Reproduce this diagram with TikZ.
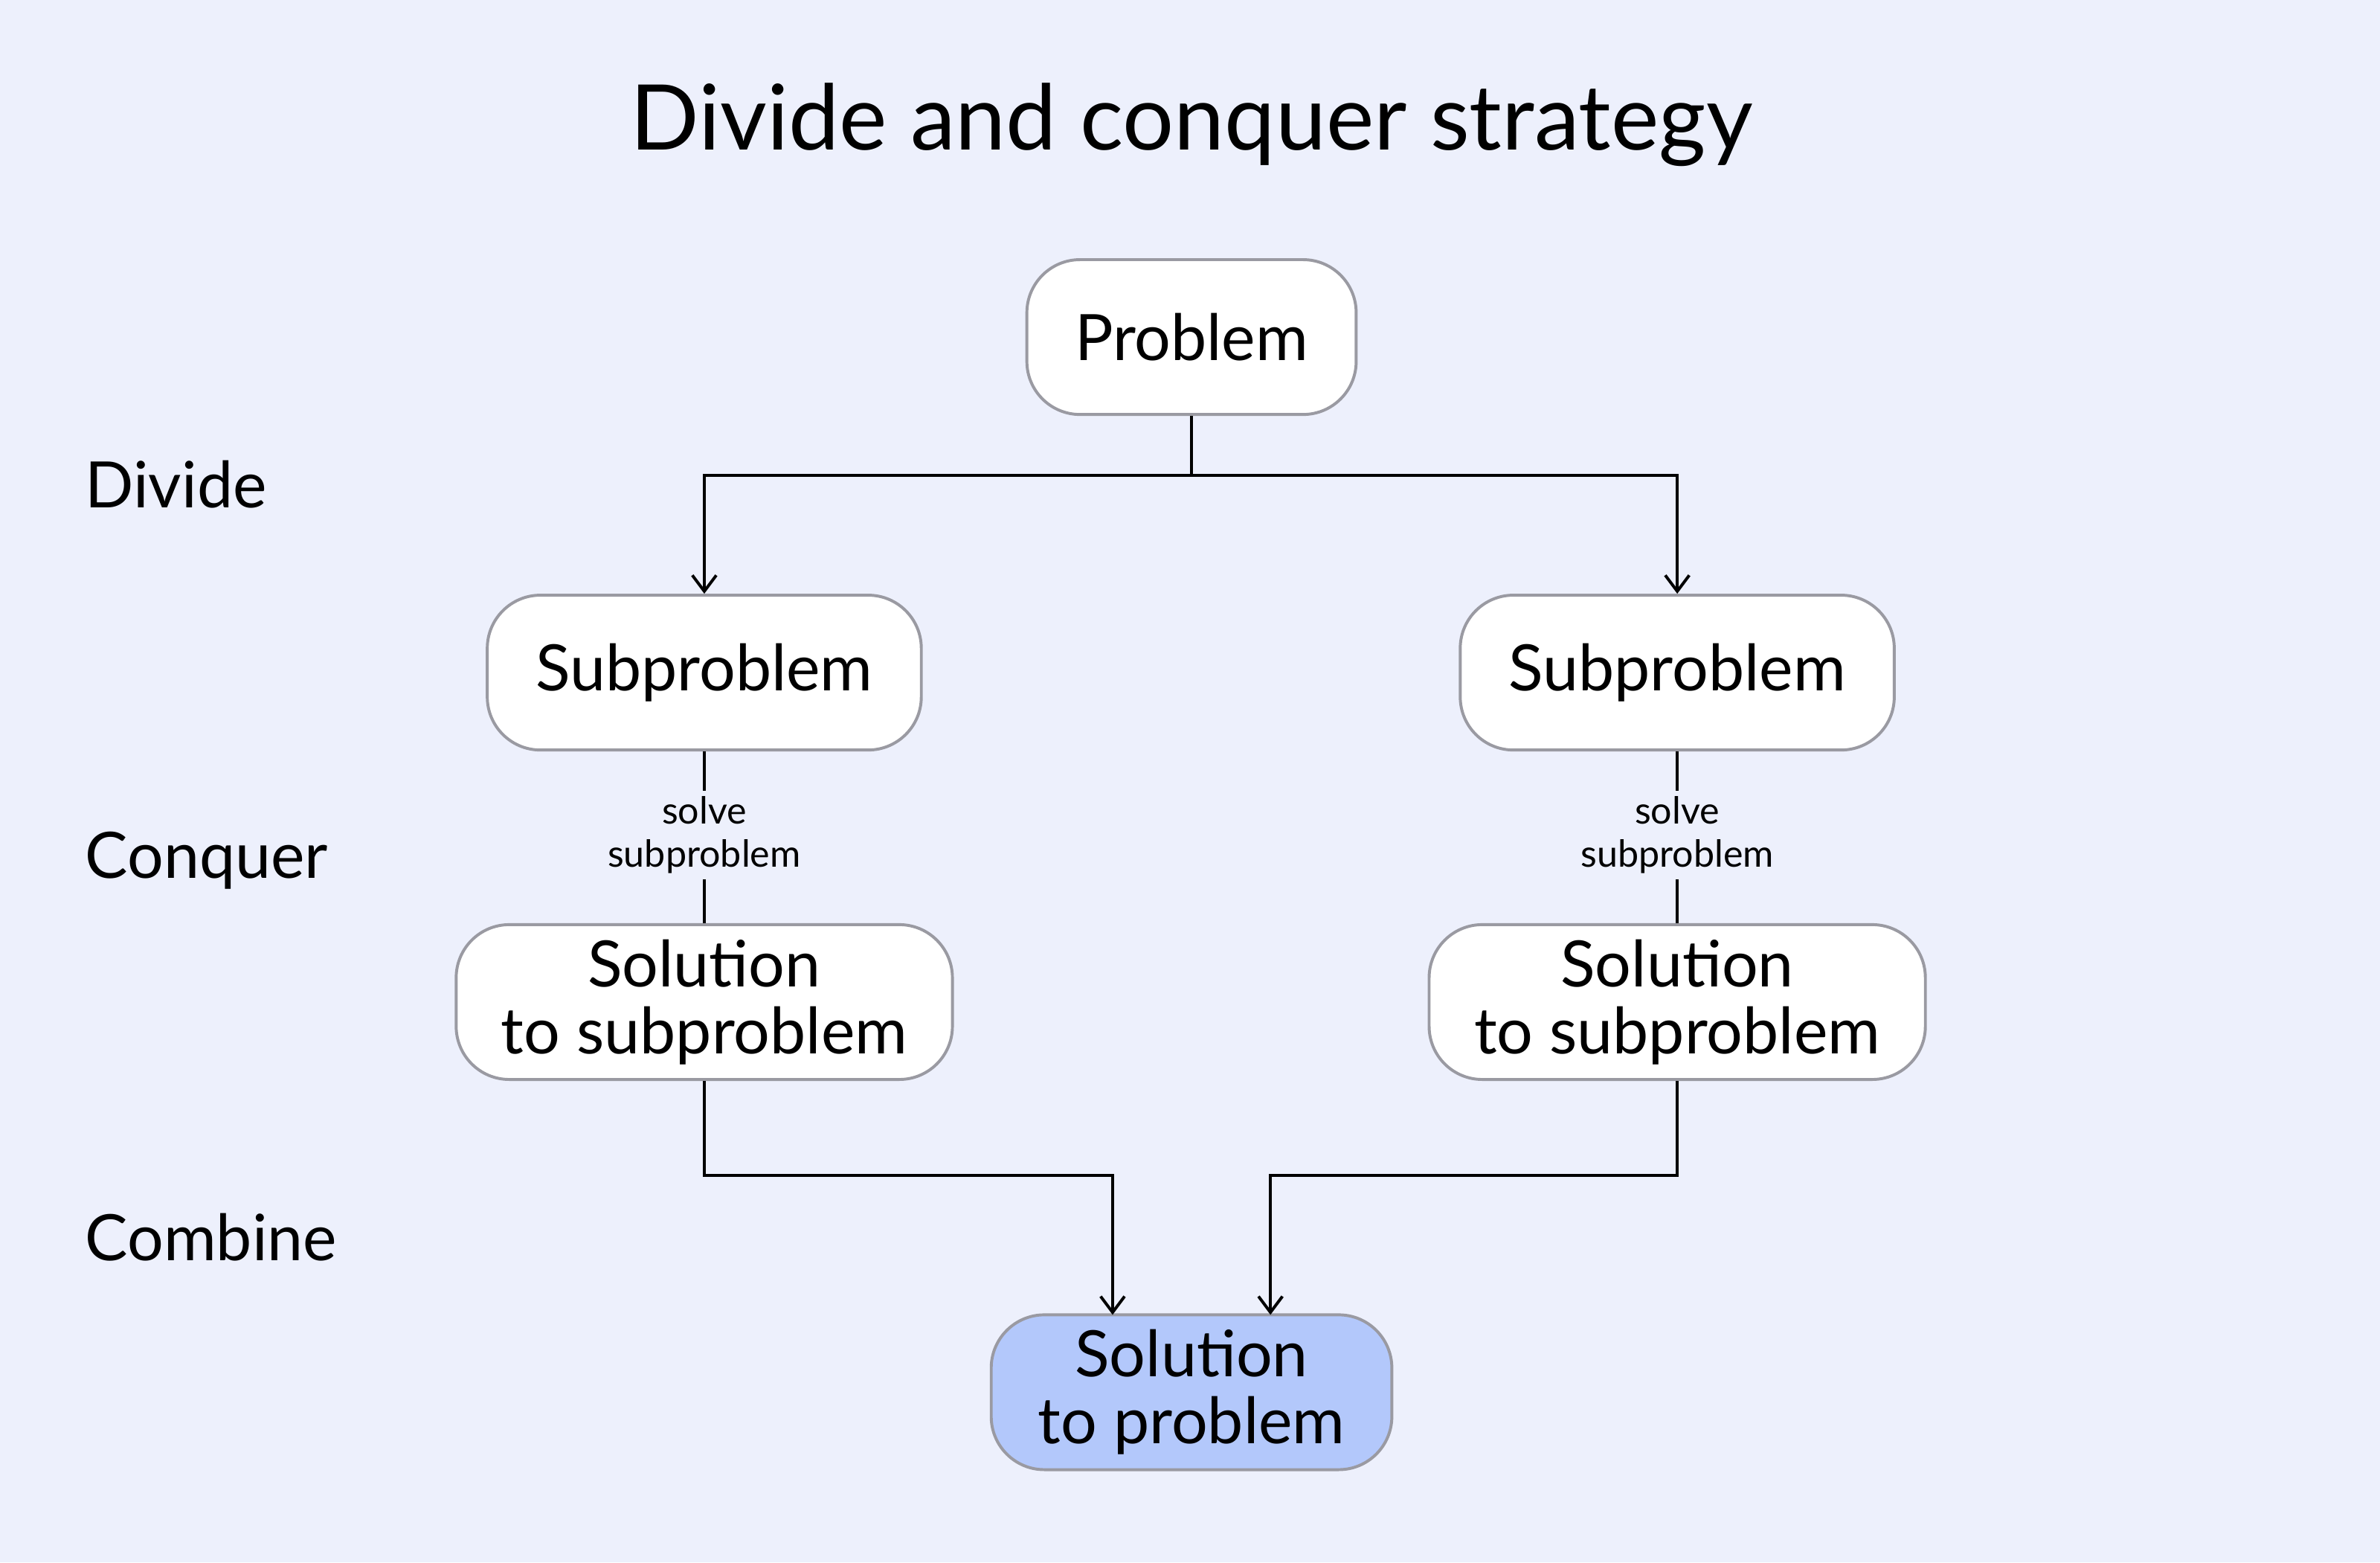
\documentclass[tikz,border=0pt]{standalone}
\usepackage{fontspec}
\setmainfont{Lato}
\usetikzlibrary{arrows.meta}
\definecolor{bg}{HTML}{EDF0FC}
\definecolor{bd}{HTML}{9A9AA2}
\definecolor{hl}{HTML}{B3C8FB}
\begin{document}
\begin{tikzpicture}[x=0.02cm,y=-0.02cm,
  box/.style={draw=bd,line width=1.1pt,fill=white,rounded corners=0.7cm,minimum height=2.04cm,align=center,font=\fontsize{24}{25}\selectfont,inner sep=0pt},
  lab/.style={font=\fontsize{24}{28}\selectfont,anchor=west},
  ln/.style={line width=1.1pt,black},
  arr/.style={ln,-{Straight Barb[length=6pt,width=9pt]}}]
\fill[bg] (0,0) rectangle (1568,1029);
\node[font=\fontsize{34}{40}\selectfont] (title) at (785,82) {Divide and conquer strategy};
\node[lab] (d) at (50,319) {Divide};
\node[lab] (c) at (50,567) {Conquer};
\node[lab] (cb) at (50,815) {Combine};
\node[box,minimum width=4.34cm] (p) at (785,222) {Problem};
\node[box,minimum width=5.72cm] (sl) at (464,443) {Subproblem};
\node[box,minimum width=5.72cm] (sr) at (1105,443) {Subproblem};
\node[box,minimum width=6.54cm] (ol) at (464,660) {Solution\\to subproblem};
\node[box,minimum width=6.54cm] (or) at (1105,660) {Solution\\to subproblem};
\node[box,minimum width=5.28cm,fill=hl] (f) at (785,917) {Solution\\to problem};
\coordinate (j) at (785,313);
\draw[ln] (p.south) -- (j);
\draw[arr] (j) -| (sl.north);
\draw[arr] (j) -| (sr.north);
\node[font=\fontsize{14}{16}\selectfont,align=center,inner sep=2pt] (tl) at (464,550) {solve\\subproblem};
\node[font=\fontsize{14}{16}\selectfont,align=center,inner sep=2pt] (tr) at (1105,550) {solve\\subproblem};
\draw[ln] (sl.south) -- (tl.north);
\draw[ln] (tl.south) -- (ol.north);
\draw[ln] (sr.south) -- (tr.north);
\draw[ln] (tr.south) -- (or.north);
\coordinate (ml) at (464,774);
\coordinate (mr) at (1105,774);
\draw[arr] (ol.south) -- (ml) -| (733,866);
\draw[arr] (or.south) -- (mr) -| (837,866);
\end{tikzpicture}
\end{document}
